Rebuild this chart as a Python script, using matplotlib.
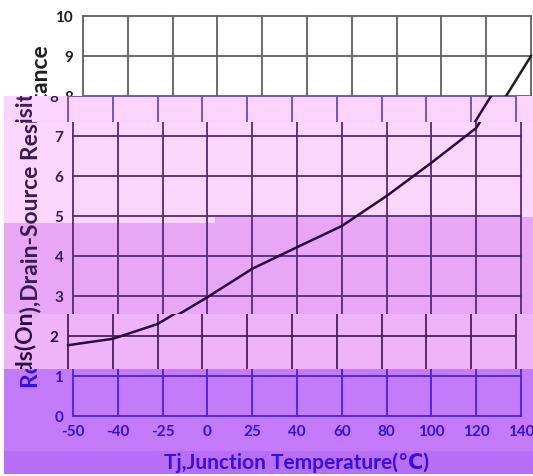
import matplotlib
matplotlib.use("Agg")
import matplotlib.pyplot as plt
from matplotlib.patches import Rectangle
from matplotlib.transforms import Bbox, TransformedBbox

plt.rcParams['font.family'] = ['Lato', 'DejaVu Sans']

# 온도(x축 범주)와 Rds(on) 값
temps = ['-50', '-40', '-25', '0', '25', '40', '60', '80', '100', '120', '140']
rds = [1.77, 1.93, 2.3, 2.97, 3.68, 4.22, 4.75, 5.5, 6.33, 7.2, 9.0]
yticks = list(range(0, 11))

W, H = 533, 477
# 띠 영역: (top, bottom, x이동, 배경색, 격자색, 곡선색, 글자색)
bands = [
    (0, 97, 0, None, '#606060', '#1e1e1e', '#1e1e1e'),
    (97, 123, -15, '#fad4fc', '#6e4cb0', '#2b0a4e', '#3c1c5c'),
    (123, 315, -10, None, '#56287a', '#2a0840', '#3a1a52'),
    (315, 370, -15, '#efb3fa', '#4e1d5c', '#2e0a3a', '#2a0a3a'),
    (370, 477, -10, None, '#4a22e6', '#3b10e0', '#3510e0'),
]
# 배경 사각형 (x0, top, x1, bottom, 색)
backs = [
    (4, 123, 533, 224, '#fbd6fd'),
    (215, 218, 533, 224, '#e7a7f5'),
    (4, 224, 533, 315, '#e7a7f5'),
    (4, 370, 533, 452, '#c47bfa'),
    (4, 452, 533, 475, '#b86ef6'),
]

fig = plt.figure(figsize=(W / 100, H / 100), dpi=100)
fig.patch.set_facecolor('white')

for x0, t, x1, b, c in backs:
    fig.patches.append(Rectangle((x0 / W, 1 - b / H), (x1 - x0) / W, (b - t) / H,
                                 transform=fig.transFigure, color=c, lw=0, zorder=-5))

clip_sets = []
for top, bot, dx, bg, grid, curve, text in bands:
    if bg is not None:
        fig.patches.append(Rectangle((4 / W, 1 - bot / H), 1 - 4 / W, (bot - top) / H,
                                     transform=fig.transFigure, color=bg, lw=0, zorder=-5))
    ax = fig.add_axes([(83 + dx) / W, 60 / H, 448 / W, 400 / H])
    ax.patch.set_visible(False)
    for s in ax.spines.values():
        s.set_visible(False)
    ax.plot(range(len(temps)), rds, color=curve, lw=1.8)
    ax.set_xlim(0, len(temps) - 1)
    ax.set_ylim(0, 10)
    ax.set_xticks(range(len(temps)), temps)
    ax.set_yticks(yticks)
    ax.grid(True, color=grid, lw=1.3)
    ax.tick_params(length=0, labelsize=11, labelcolor=text)
    ax.tick_params(axis='y', pad=7)
    ax.tick_params(axis='x', pad=6)
    for lab in ax.get_xticklabels() + ax.get_yticklabels():
        lab.set_fontweight('bold')
    ax.set_ylabel('Rds(On),Drain-Source Resisitance', fontsize=16.5, fontweight='bold',
                  color=text, va='center')
    ax.yaxis.set_label_coords(-42 / 448, 0.5)
    ax.set_xlabel('Tj,Junction Temperature(℃)', fontsize=15, fontweight='bold',
                  color=text, va='center')
    ax.xaxis.set_label_coords(0.5, -46 / 400)

    box = TransformedBbox(Bbox.from_extents(0, 1 - bot / H, 1, 1 - top / H), fig.transFigure)
    arts = list(ax.lines) + [ax.xaxis.label, ax.yaxis.label]
    texts = [ax.xaxis.label, ax.yaxis.label]
    for tk in ax.xaxis.get_major_ticks() + ax.yaxis.get_major_ticks():
        arts += [tk.gridline, tk.label1]
        texts.append(tk.label1)
    for a in arts:
        a.set_clip_path(None)
        a.set_clip_on(True)
        a.set_clip_box(box)
    clip_sets.append((texts, top, bot))

# 띠 밖에 있는 글자는 숨김
fig.canvas.draw()
for texts, top, bot in clip_sets:
    for t in texts:
        bb = t.get_window_extent()
        y_top = H - bb.y1
        y_bot = H - bb.y0
        if y_bot <= top + 1 or y_top >= bot - 1:
            t.set_visible(False)

fig.savefig('out.png', dpi=100)
